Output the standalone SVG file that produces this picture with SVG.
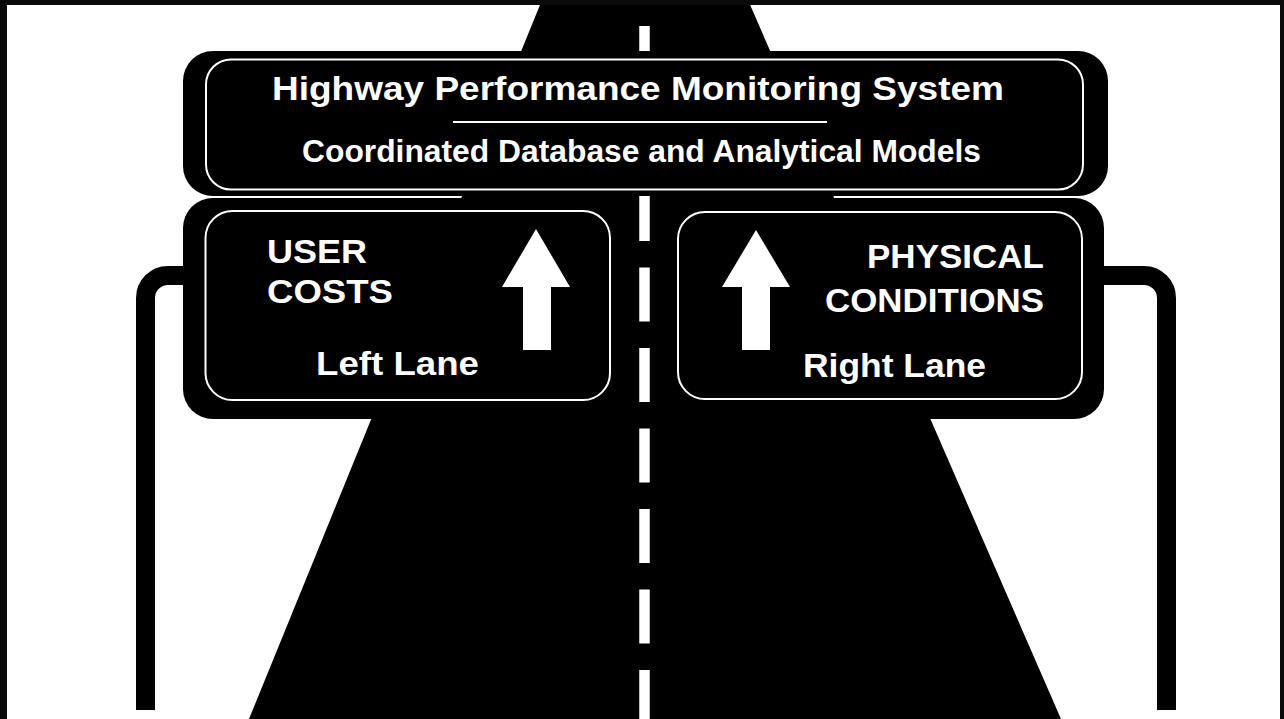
<svg xmlns="http://www.w3.org/2000/svg" width="1284" height="719" viewBox="0 0 1284 719">
  <style>
    .blk { fill: #000; }
    .frame { fill: #0a0a0a; }
    .border { fill: none; stroke: #fff; stroke-width: 2; }
    .post { fill: none; stroke: #000; stroke-width: 19; }
    .t { font-family: "Liberation Sans", Arial, Helvetica, sans-serif; font-weight: bold; fill: #fff; }
    .arrow { fill: #fff; }
  </style>
  <rect x="0" y="0" width="1284" height="719" fill="#fff"/>

  <g id="road">
    <polygon class="blk" points="542,0 748,0 1061,719 249,719"/>
    <line x1="644.5" y1="26" x2="644.5" y2="719" stroke="#fff" stroke-width="10.5" stroke-dasharray="54 26.5"/>
  </g>

  <g id="posts">
    <path class="post" d="M145.5 710 V298 A22.5 22.5 0 0 1 168 275.5 H195"/>
    <path class="post" d="M1166.5 710 V298 A22.5 22.5 0 0 0 1144 275.5 H1090"/>
  </g>

  <g id="top-sign">
    <rect class="blk" x="183" y="51" width="925" height="145" rx="30"/>
    <rect class="border" x="206" y="59.5" width="877" height="130" rx="25"/>
    <text class="t" x="272" y="99.5" font-size="33" textLength="732" lengthAdjust="spacingAndGlyphs">Highway Performance Monitoring System</text>
    <line x1="453" y1="122" x2="827" y2="122" stroke="#fff" stroke-width="2"/>
    <text class="t" x="302" y="162" font-size="31" textLength="679" lengthAdjust="spacingAndGlyphs">Coordinated Database and Analytical Models</text>
  </g>

  <g id="left-sign">
    <rect class="blk" x="183" y="198" width="450" height="221" rx="30"/>
    <rect class="border" x="205.5" y="211" width="404.5" height="189" rx="27"/>
    <text class="t" x="267" y="263" font-size="33" textLength="100" lengthAdjust="spacingAndGlyphs">USER</text>
    <text class="t" x="267" y="303" font-size="33" textLength="126" lengthAdjust="spacingAndGlyphs">COSTS</text>
    <text class="t" x="316" y="375" font-size="34" textLength="163" lengthAdjust="spacingAndGlyphs">Left Lane</text>
    <polygon class="arrow" points="536,229 570,287 551,287 551,350 523,350 523,287 502,287"/>
  </g>

  <g id="right-sign">
    <rect class="blk" x="656" y="198" width="448" height="221" rx="30"/>
    <rect class="border" x="678" y="212" width="404" height="187" rx="27"/>
    <text class="t" x="867" y="268" font-size="33" textLength="177" lengthAdjust="spacingAndGlyphs">PHYSICAL</text>
    <text class="t" x="825" y="312" font-size="33" textLength="219" lengthAdjust="spacingAndGlyphs">CONDITIONS</text>
    <text class="t" x="803" y="377" font-size="34" textLength="183" lengthAdjust="spacingAndGlyphs">Right Lane</text>
    <polygon class="arrow" points="756,230 790,287 770,287 770,350 742,350 742,287 722,287"/>
  </g>

  <g id="frame">
    <rect class="frame" x="0" y="0" width="7" height="719"/>
    <rect class="frame" x="0" y="0" width="1284" height="5"/>
    <rect class="frame" x="1280" y="0" width="4" height="719"/>
  </g>
</svg>
